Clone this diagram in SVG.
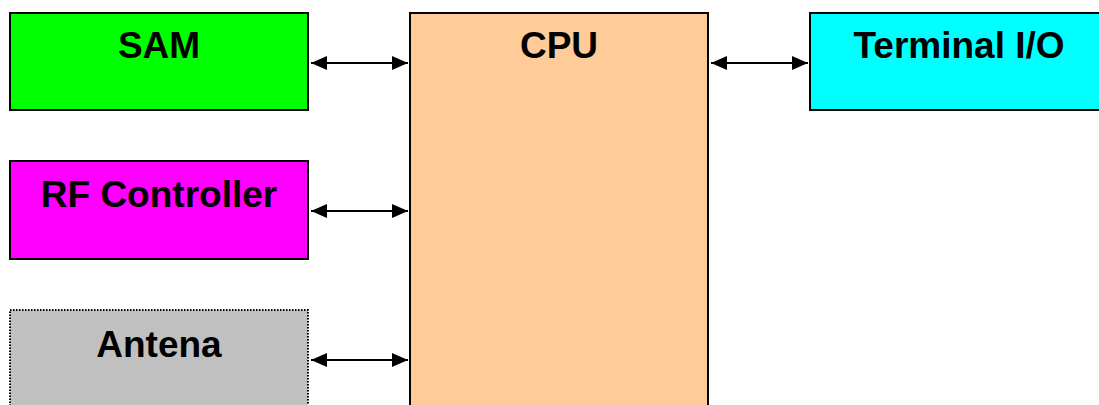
<svg xmlns="http://www.w3.org/2000/svg" width="1099" height="405" viewBox="0 0 1099 405">
<style>
.box{stroke:#000;stroke-width:2}
.lbl{font-family:"Liberation Sans",Arial,sans-serif;font-weight:bold;font-size:37px;fill:#000;text-anchor:middle}
.conn{stroke:#000;stroke-width:2;fill:none;marker-start:url(#ah);marker-end:url(#ah)}
</style>
<defs>
<marker id="ah" viewBox="0 0 16 14" refX="16" refY="7" markerWidth="16" markerHeight="14" markerUnits="userSpaceOnUse" orient="auto-start-reverse">
<path d="M0,0 L16,7 L0,14 Z" fill="#000"/>
</marker>
</defs>
<rect width="1099" height="405" fill="#fff"/>
<g id="sam">
<rect class="box" x="10" y="13" width="298" height="97" fill="#00FF00"/>
<text class="lbl" x="159" y="58">SAM</text>
</g>
<g id="rf">
<rect class="box" x="10" y="161" width="298" height="98" fill="#FF00FF"/>
<text class="lbl" x="159" y="207">RF Controller</text>
</g>
<g id="antena">
<rect x="10" y="310" width="298" height="110" fill="#C0C0C0" stroke="#000" stroke-width="2" stroke-dasharray="1.5 1.5"/>
<text class="lbl" x="159" y="357">Antena</text>
</g>
<g id="cpu">
<rect class="box" x="410" y="13" width="298" height="410" fill="#FFCC99"/>
<text class="lbl" x="559" y="58">CPU</text>
</g>
<g id="terminal">
<rect class="box" x="810" y="13" width="298" height="97" fill="#00FFFF"/>
<text class="lbl" x="959" y="58">Terminal I/O</text>
</g>
<g id="connectors">
<line class="conn" x1="311" y1="63" x2="408" y2="63"/>
<line class="conn" x1="311" y1="211" x2="408" y2="211"/>
<line class="conn" x1="311" y1="360" x2="408" y2="360"/>
<line class="conn" x1="711" y1="63" x2="808" y2="63"/>
</g>
</svg>
